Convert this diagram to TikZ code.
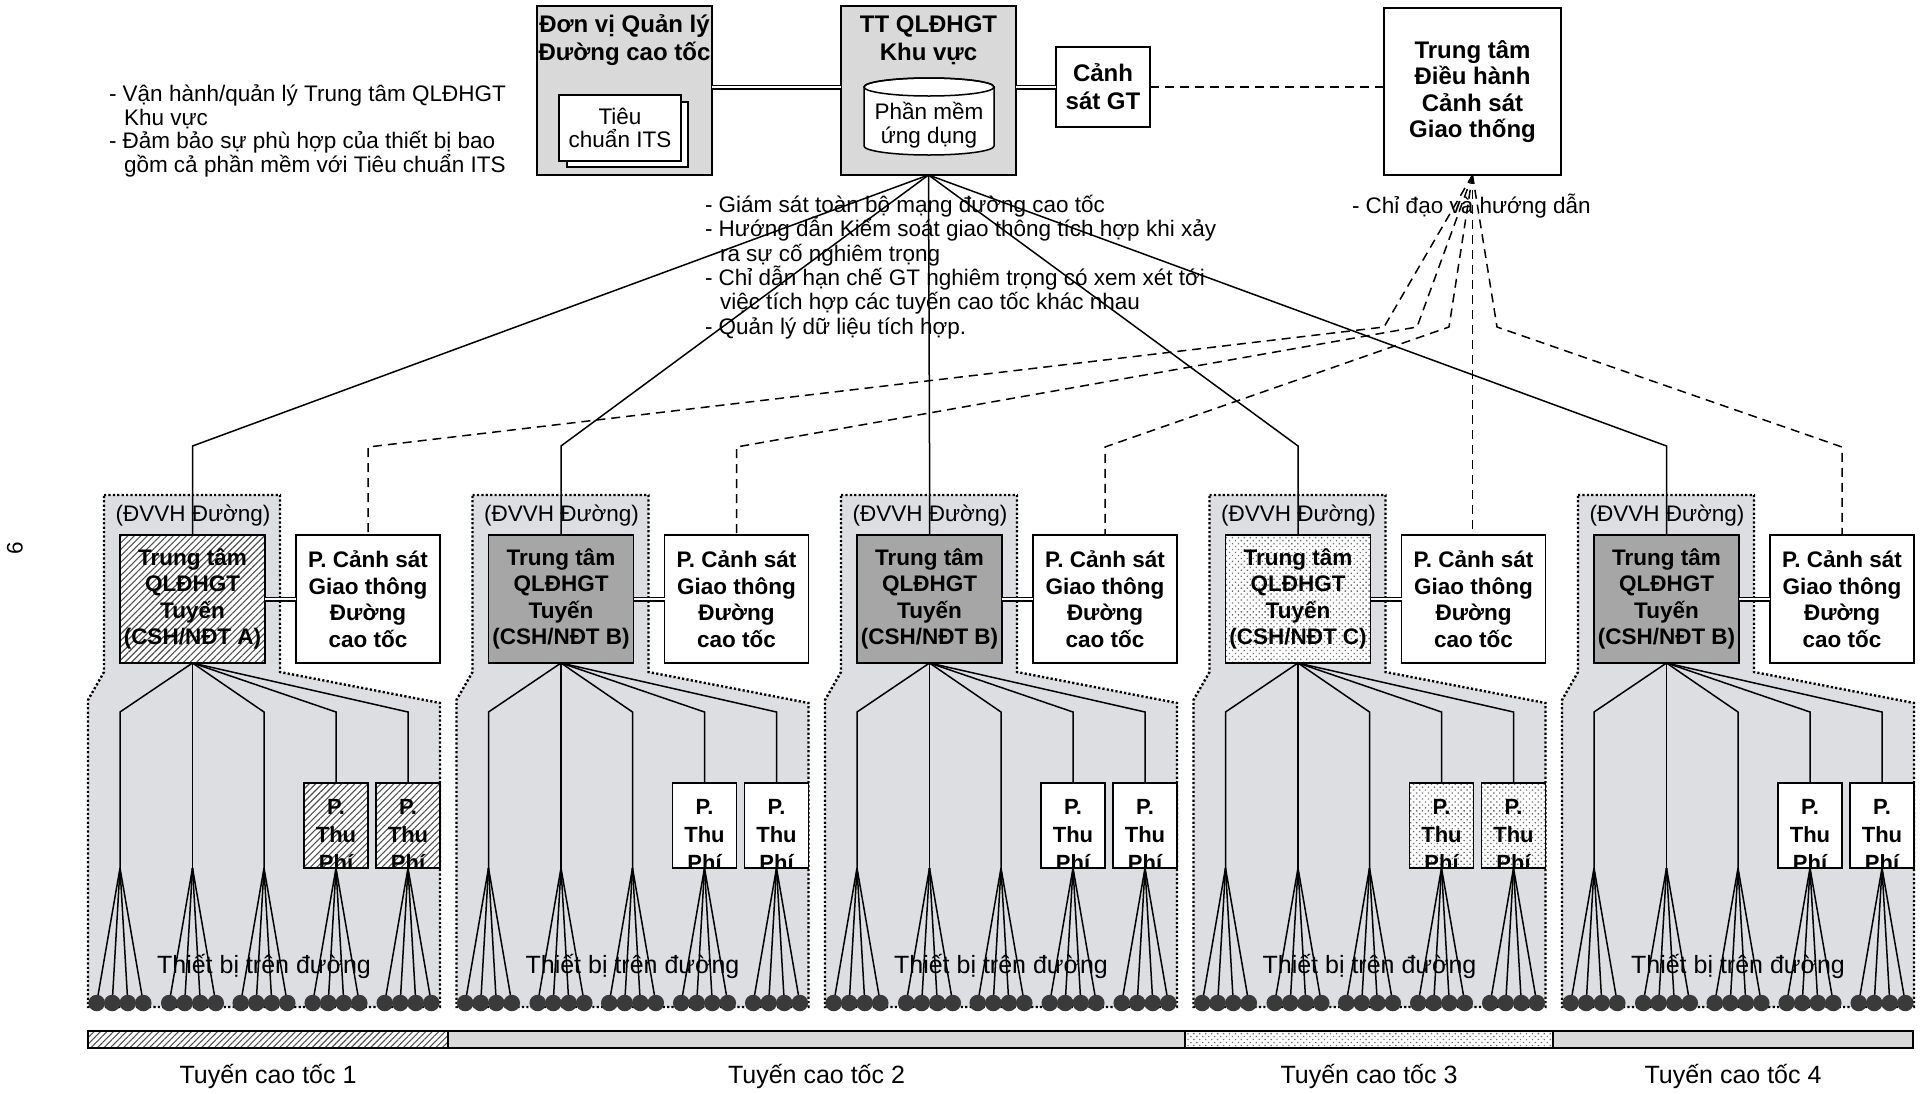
\documentclass[tikz,border=0pt]{standalone}
\usepackage{fontspec}
\setmainfont{Liberation Sans}
\usetikzlibrary{patterns.meta,calc}
\pgfdeclarelayer{back}
\pgfdeclarelayer{mid}
\pgfsetlayers{back,mid,main}
\definecolor{regfill}{RGB}{221,222,225}
\definecolor{topfill}{RGB}{217,217,217}
\definecolor{darkfill}{RGB}{166,166,166}
\definecolor{devc}{RGB}{58,58,58}
\definecolor{hatchc}{RGB}{80,80,80}
\definecolor{dotcol}{RGB}{110,110,110}
\newcommand\myN{\fontsize{22.5}{23.5}\selectfont}
\newcommand\myNm{\fontsize{22.5}{24.4}\selectfont}
\newcommand\myB{\bfseries\fontsize{22.5}{26.5}\selectfont}
\newcommand\myT{\bfseries\fontsize{24}{28}\selectfont}
\newcommand\myTd{\bfseries\fontsize{24}{26.5}\selectfont}
\newcommand\myL{\fontsize{25}{28}\selectfont}
\newcommand\myP{\bfseries\fontsize{22}{28}\selectfont}
\begin{document}
\begin{tikzpicture}[x=1pt,y=-1pt,
 box/.style={draw, line width=1.8pt, inner sep=0pt, outer sep=0pt},
 txt/.style={inner sep=0pt, outer sep=0pt, align=center},
 ln/.style={line width=1.5pt},
 dbl/.style={double, double distance=2.6pt, line width=1.2pt},
 dashline/.style={line width=1.5pt, dash pattern=on 9pt off 6pt},
 regionst/.style={fill=regfill, draw, line width=2.4pt, dash pattern=on 2.2pt off 2.2pt},
 hatchfill/.style={preaction={fill=white}, pattern={Lines[angle=45,distance=4.6pt,line width=1.1pt]}, pattern color=hatchc},
 dotfill/.style={preaction={fill=white}, pattern={Dots[distance=4.2pt,radius=0.95pt,angle=45]}, pattern color=dotcol},
 darkst/.style={fill=darkfill},
 whitest/.style={fill=white},
 dev/.style={circle, fill=devc, inner sep=0pt, minimum size=16.5pt},
]
\useasboundingbox (0,0) rectangle (1922,1093);
\begin{pgfonlayer}{back}
\fill[white] (0,0) rectangle (1922,1093);
\end{pgfonlayer}

% ---------- top row ----------
\node[box, fill=topfill, minimum width=175pt, minimum height=169pt] (dv) at (624.5,90.5) {};
\node[txt, font=\myT, anchor=north] (dvt) at (624.5,15) {Đơn vị Quản lý\\Đường cao tốc};
\node[box, fill=white, line width=1.5pt, minimum width=121pt, minimum height=65pt] (its2) at (627.5,134.5) {};
\node[box, fill=white, line width=1.5pt, minimum width=122pt, minimum height=66pt] (its) at (620,128) {};
\node[txt, font=\myN] (itst) at (its) {Tiêu\\chuẩn ITS};

\node[box, fill=topfill, minimum width=175pt, minimum height=169pt] (tt) at (928.5,90.5) {};
\node[txt, font=\myT, anchor=north] (ttt) at (928.5,16) {TT QLĐHGT\\Khu vực};
\draw[line width=1.5pt, fill=white] (864,87) -- (864,146) arc[start angle=180, end angle=0, x radius=65, y radius=9] -- (994,87) arc[start angle=0, end angle=-180, x radius=65, y radius=9] -- cycle;
\draw[line width=1.5pt] (929,87) ellipse [x radius=65, y radius=9];
\node[txt, font=\myN] (sw) at (929,125) {Phần mềm\\ứng dụng};

\node[box, fill=white, minimum width=94pt, minimum height=80pt] (csgt) at (1103,87) {};
\node[txt, font=\myT] (csgtt) at (csgt) {Cảnh\\sát GT};
\node[box, fill=white, minimum width=177pt, minimum height=167pt] (ttdh) at (1472.5,91.5) {};
\node[txt, font=\myTd] (ttdht) at (ttdh) {Trung tâm\\Điều hành\\Cảnh sát\\Giao thống};

\draw[dbl] (dv.east |- csgt.west) -- (tt.west |- csgt.west);
\draw[dbl] (tt.east |- csgt.west) -- (csgt.west);
\draw[dashline] (csgt.east) -- (ttdh.west |- csgt.east);

\node[txt, font=\myN, align=left, anchor=north west] (lt) at (109,85) {- Vận hành/quản lý Trung tâm QLĐHGT\\\hspace*{15pt}Khu vực\\- Đảm bảo sự phù hợp của thiết bị bao\\\hspace*{15pt}gồm cả phần mềm với Tiêu chuẩn ITS};
\node[txt, font=\myNm, align=left, anchor=north west] (mt) at (705,195) {- Giám sát toàn bộ mạng đường cao tốc\\- Hướng dẫn Kiểm soát giao thông tích hợp khi xảy\\\hspace*{15pt}ra sự cố nghiêm trọng\\- Chỉ dẫn hạn chế GT nghiêm trọng có xem xét tới\\\hspace*{15pt}việc tích hợp các tuyến cao tốc khác nhau\\- Quản lý dữ liệu tích hợp.};
\node[txt, font=\myN, anchor=base west] (rt) at (1352,213) {- Chỉ đạo và hướng dẫn};

\node[txt, font=\myN, rotate=90] (pg) at (15,548) {6};

% ---------- groups ----------
\foreach \k/\lab/\hs/\ts in {0/A/hatchfill/hatchfill, 1/B/darkst/whitest, 2/B/darkst/whitest, 3/C/dotfill/dotfill, 4/B/darkst/whitest} {
 \begin{scope}[xshift={368.5pt*\k}]
  \begin{pgfonlayer}{back}
   \path[regionst] (104,495) -- (280,495) -- (280,672) -- (440,703) -- (440,1007) -- (88,1007) -- (88,700) -- (104,672) -- cycle;
  \end{pgfonlayer}
  \node[box, \hs, minimum width=145pt, minimum height=128pt] (hd\k) at (192.5,599) {};
  \node[txt, font=\myB] (hdt\k) at (hd\k) {Trung tâm\\QLĐHGT\\Tuyến\\(CSH/NĐT \lab)};
  \node[box, fill=white, minimum width=144pt, minimum height=128pt] (pc\k) at (368,599) {};
  \node[txt, font=\myB] (pct\k) at (pc\k) {P. Cảnh sát\\Giao thông\\Đường\\cao tốc};
  \draw[dbl] (hd\k.east) -- (pc\k.west);
  \node[txt, font=\myN, anchor=base] (dvvh\k) at (193,521) {(ĐVVH Đường)};
  \coordinate (gc\k) at (192.5,446);
  \coordinate (pv\k) at (368,447);
  \node[box, \ts, line width=1.6pt, minimum width=64pt, minimum height=85pt] (tpa\k) at (336,825.5) {};
  \node[box, \ts, line width=1.6pt, minimum width=64pt, minimum height=85pt] (tpb\k) at (408,825.5) {};
  \begin{scope}
   \clip (tpa\k.south west) rectangle (tpa\k.north east);
   \node[txt, font=\myP, anchor=north] (tpat\k) at (336,799) {P.\\Thu\\Phí};
  \end{scope}
  \begin{scope}
   \clip (tpb\k.south west) rectangle (tpb\k.north east);
   \node[txt, font=\myP, anchor=north] (tpbt\k) at (408,799) {P.\\Thu\\Phí};
  \end{scope}
  \coordinate (ap\k-1) at (120,868);
  \coordinate (ap\k-2) at (192.5,868);
  \coordinate (ap\k-3) at (264,868);
  \coordinate (ap\k-4) at (tpa\k.south);
  \coordinate (ap\k-5) at (tpb\k.south);
  \foreach \j/\bx in {1/120,2/192.5,3/264,4/336,5/408} {
   \foreach \m/\o in {1/-23.3,2/-7.8,3/7.8,4/23.3} {
    \node[dev] (d\k-\j-\m) at (\bx+\o,1003) {};
    \begin{pgfonlayer}{mid}
     \draw[ln] (ap\k-\j) -- (d\k-\j-\m.center);
    \end{pgfonlayer}
   }
  }
  \begin{pgfonlayer}{mid}
   \draw[ln] (hd\k.south) -- (120,712) -- (ap\k-1);
   \draw[ln] (hd\k.south) -- (ap\k-2);
   \draw[ln] (hd\k.south) -- (264,712) -- (ap\k-3);
   \draw[ln] (hd\k.south) -- (336,712) -- (tpa\k.north);
   \draw[ln] (hd\k.south) -- (408,712) -- (tpb\k.north);
   \draw[ln] (tt.south) -- (gc\k) -- (hd\k.north);
  \end{pgfonlayer}
  \node[txt, font=\myL, anchor=base] (tb\k) at (264,973) {Thiết bị trên đường};
 \end{scope}
}

% ---------- dashed guidance lines ----------
\coordinate (bd0) at (1384,327);
\coordinate (bd1) at (1417,327);
\coordinate (bd2) at (1449,327);
\coordinate (bd4) at (1497,327);
\begin{pgfonlayer}{mid}
\draw[dashline] (ttdh.south) -- (bd0) -- (pv0) -- (pc0.north);
\draw[dashline] (ttdh.south) -- (bd1) -- (pv1) -- (pc1.north);
\draw[dashline] (ttdh.south) -- (bd2) -- (pv2) -- (pc2.north);
\draw[dashline] (ttdh.south) -- (ttdh.south |- pc3.north);
\draw[dashline] (ttdh.south) -- (bd4) -- (pv4) -- (pc4.north);
\end{pgfonlayer}

% ---------- route bars ----------
\node[box, hatchfill, line width=1.5pt, minimum width=360pt, minimum height=17pt] (bar1) at (268,1039.5) {};
\node[box, fill=topfill, line width=1.5pt, minimum width=737pt, minimum height=17pt] (bar2) at (816.5,1039.5) {};
\node[box, dotfill, line width=1.5pt, minimum width=368pt, minimum height=17pt] (bar3) at (1369,1039.5) {};
\node[box, fill=topfill, line width=1.5pt, minimum width=360pt, minimum height=17pt] (bar4) at (1733,1039.5) {};
\node[txt, font=\myL, anchor=base] (lb1) at (268,1083) {Tuyến cao tốc 1};
\node[txt, font=\myL, anchor=base] (lb2) at (816.5,1083) {Tuyến cao tốc 2};
\node[txt, font=\myL, anchor=base] (lb3) at (1369,1083) {Tuyến cao tốc 3};
\node[txt, font=\myL, anchor=base] (lb4) at (1733,1083) {Tuyến cao tốc 4};
\end{tikzpicture}
\end{document}
